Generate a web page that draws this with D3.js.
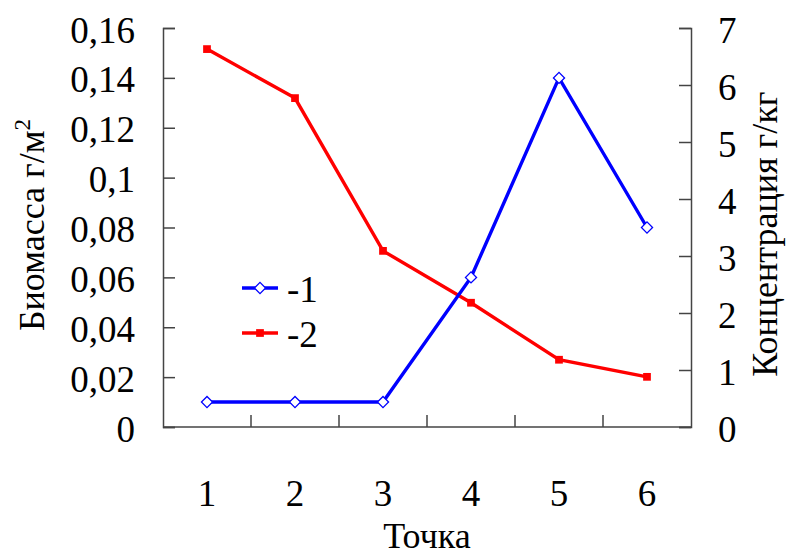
<!DOCTYPE html>
<html>
<head>
<meta charset="utf-8">
<script src="https://cdn.jsdelivr.net/npm/d3@7"></script>
<style>
  body { margin: 0; background: white; }
  svg text { font-family: "Liberation Serif", "Times New Roman", "DejaVu Serif", serif; }
</style>
</head>
<body>
<svg id="chart" width="791" height="556"></svg>
<script>
// data
const points = [1, 2, 3, 4, 5, 6];
const biomass = [0.01, 0.01, 0.01, 0.06, 0.14, 0.08];          // series 1, left axis
const concentration = [6.63, 5.77, 3.09, 2.18, 1.18, 0.88];     // series 2, right axis
const leftTicks = [0, 0.02, 0.04, 0.06, 0.08, 0.1, 0.12, 0.14, 0.16];
const rightTicks = [0, 1, 2, 3, 4, 5, 6, 7];
const seriesNames = ["-1", "-2"];

const width = 791, height = 556;
const margin = { top: 28, right: 100, bottom: 129, left: 163 };
const colors = { axis: "#444", blue: "#0000ff", red: "#ff0000" };
const serif = "Liberation Serif";

const svg = d3.select("#chart");

const x = d3.scaleBand()
    .domain(points)
    .range([margin.left, width - margin.right])
    .padding(0);
const yLeft = d3.scaleLinear()
    .domain([0, 0.16])
    .range([height - margin.bottom, margin.top]);
const yRight = d3.scaleLinear()
    .domain([0, 7])
    .range([height - margin.bottom, margin.top]);

const commaFmt = d => String(+d.toFixed(2)).replace(".", ",");

// axes (inward ticks)
const leftAxis = svg.append("g")
    .attr("transform", `translate(${margin.left},0)`)
    .call(d3.axisLeft(yLeft).tickValues(leftTicks).tickSize(-12).tickPadding(28).tickFormat(commaFmt));
const rightAxis = svg.append("g")
    .attr("transform", `translate(${width - margin.right},0)`)
    .call(d3.axisRight(yRight).tickValues(rightTicks).tickSize(-12).tickPadding(27).tickFormat(d => String(d)));

[leftAxis, rightAxis].forEach(g => {
    g.attr("font-family", serif).attr("font-size", 37);
    g.select(".domain").attr("stroke", colors.axis).attr("stroke-width", 1.5);
    g.selectAll(".tick line").attr("stroke", colors.axis).attr("stroke-width", 1.5);
    g.selectAll(".tick text")
        .attr("fill", "#000")
        .attr("dy", "0.38em");
});

// x axis: baseline, ticks at band edges, labels at band centres
const xBase = height - margin.bottom;
const xAxis = svg.append("g").attr("font-family", serif).attr("font-size", 37);
xAxis.append("line")
    .attr("x1", margin.left).attr("x2", width - margin.right)
    .attr("y1", xBase).attr("y2", xBase)
    .attr("stroke", colors.axis).attr("stroke-width", 1.5);
xAxis.selectAll("line.tick")
    .data(points.slice(1))
    .join("line")
    .attr("class", "tick")
    .attr("x1", d => x(d)).attr("x2", d => x(d))
    .attr("y1", xBase).attr("y2", xBase - 12)
    .attr("stroke", colors.axis).attr("stroke-width", 1.5);
xAxis.selectAll("text")
    .data(points)
    .join("text")
    .attr("x", d => x(d) + x.bandwidth() / 2)
    .attr("y", xBase + 79)
    .attr("text-anchor", "middle")
    .text(d => d);

// axis titles
const titles = svg.append("g").attr("font-family", serif).attr("font-size", 36);
titles.append("text")
    .attr("transform", `translate(44,225) rotate(-90)`)
    .attr("text-anchor", "middle")
    .call(t => {
        t.append("tspan").text("Биомасса г/м");
        t.append("tspan").attr("dy", -14).attr("font-size", 23).text("2");
    });
titles.append("text")
    .attr("transform", `translate(777,234) rotate(-90)`)
    .attr("text-anchor", "middle")
    .text("Концентрация г/кг");
titles.append("text")
    .attr("x", (margin.left + width - margin.right) / 2)
    .attr("y", 548)
    .attr("text-anchor", "middle")
    .text("Точка");

// lines
const cx = d => x(d) + x.bandwidth() / 2;
const lineLeft = d3.line().x((d, i) => cx(points[i])).y(d => yLeft(d));
const lineRight = d3.line().x((d, i) => cx(points[i])).y(d => yRight(d));

svg.append("path")
    .datum(concentration)
    .attr("d", lineRight)
    .attr("fill", "none")
    .attr("stroke", colors.red)
    .attr("stroke-width", 3.4);
svg.append("path")
    .datum(biomass)
    .attr("d", lineLeft)
    .attr("fill", "none")
    .attr("stroke", colors.blue)
    .attr("stroke-width", 3.4);

const square = d3.symbol(d3.symbolSquare, 60);
const diamond = d3.symbol(d3.symbolSquare, 62);

svg.append("g").selectAll("path")
    .data(concentration)
    .join("path")
    .attr("d", square)
    .attr("transform", (d, i) => `translate(${cx(points[i])},${yRight(d)})`)
    .attr("fill", colors.red);
svg.append("g").selectAll("path")
    .data(biomass)
    .join("path")
    .attr("d", diamond)
    .attr("transform", (d, i) => `translate(${cx(points[i])},${yLeft(d)}) rotate(45)`)
    .attr("fill", "white")
    .attr("stroke", colors.blue)
    .attr("stroke-width", 1.3);

// legend
const legend = svg.append("g")
    .attr("transform", "translate(242,288)")
    .attr("font-family", serif)
    .attr("font-size", 37);
const legendItems = legend.selectAll("g")
    .data(seriesNames)
    .join("g")
    .attr("transform", (d, i) => `translate(0,${i * 45})`);
legendItems.append("line")
    .attr("x1", 0).attr("x2", 36)
    .attr("stroke", (d, i) => i === 0 ? colors.blue : colors.red)
    .attr("stroke-width", 3.4);
legendItems.append("path")
    .attr("d", (d, i) => i === 0 ? diamond() : square())
    .attr("transform", (d, i) => i === 0 ? "translate(18,0) rotate(45)" : "translate(18,0)")
    .attr("fill", (d, i) => i === 0 ? "white" : colors.red)
    .attr("stroke", (d, i) => i === 0 ? colors.blue : "none")
    .attr("stroke-width", 1.3);
legendItems.append("text")
    .attr("x", 45)
    .attr("y", 0)
    .attr("dy", "0.38em")
    .text(d => d);
</script>
</body>
</html>
